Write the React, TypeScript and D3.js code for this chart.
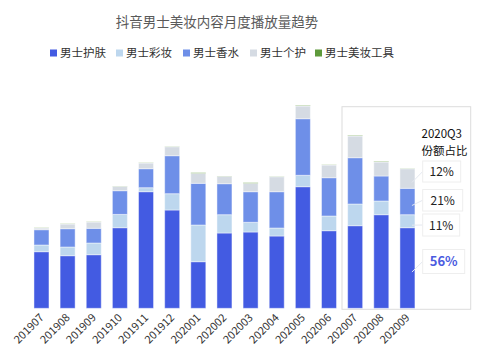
import React from 'react';
import * as d3 from 'd3';

const months = ['201907', '201908', '201909', '201910', '201911', '201912', '202001', '202002', '202003', '202004', '202005', '202006', '202007', '202008', '202009'];
const seriesNames = ['男士护肤', '男士彩妆', '男士香水', '男士个护', '男士美妆工具'];
const colors = ['#435be2', '#bdd7ee', '#6e8fe8', '#d5dbe3', '#5e9a3b'];

// values (arbitrary units)
const skincare = [56.6, 52.6, 53.6, 80.6, 116.6, 98.3, 46.6, 75.3, 76.3, 72.3, 121.6, 77.6, 82.6, 93.6, 80.6];
const makeup = [6.7, 8.7, 11.7, 13.3, 4, 16.3, 36.7, 18.3, 9.7, 8, 11.4, 14.7, 21.7, 13.7, 13];
const fragrance = [15.3, 18.3, 14.7, 23.7, 19, 38, 41.7, 31, 30.6, 36.3, 56.6, 38.3, 46.3, 25, 26.4];
const personalCare = [1.7, 4.7, 6.3, 4.3, 5.7, 9, 10, 7.4, 8.4, 15, 12.7, 12.7, 21.7, 14, 19.6];
const tools = [0.2, 0.2, 0.2, 0.2, 0.2, 0.2, 0.6, 0.2, 0.6, 0.2, 0.5, 0.2, 0.5, 0.5, 0.2];

const shareLabels = ['56%', '11%', '21%', '12%'];

export default function App() {
  const width = 490;
  const height = 361;
  const base = 308.3;

  const rows = months.map((m, i) => ({
    month: m,
    s0: skincare[i], s1: makeup[i], s2: fragrance[i], s3: personalCare[i], s4: tools[i],
  }));
  const keys = ['s0', 's1', 's2', 's3', 's4'];
  const stacked = d3.stack<any>().keys(keys)(rows);

  const x = d3.scaleBand().domain(months).range([28.4, 420.5]).paddingInner(0.426).paddingOuter(0.213);
  const y = d3.scaleLinear().domain([0, 200]).range([base, base - 200]);

  // Q3 bar (last) midpoints for connector lines
  const last = months.length - 1;
  const lastRight = (x(months[last]) ?? 0) + x.bandwidth();
  const boxes = [
    { label: shareLabels[3], seg: 3, top: 161, h: 21, w: 38, bold: false },
    { label: shareLabels[2], seg: 2, top: 189.5, h: 21.5, w: 40, bold: false },
    { label: shareLabels[1], seg: 1, top: 214, h: 22, w: 37, bold: false },
    { label: shareLabels[0], seg: 0, top: 249.5, h: 24, w: 42, bold: true },
  ];
  const boxX = 422.7;

  const legendX = [50, 116, 183, 250, 315];

  return (
    <svg width={width} height={height} style={{ position: 'absolute', left: 0, top: 0, fontFamily: '"Noto Sans CJK SC", "Noto Sans", sans-serif' }}>
      <rect width={width} height={height} fill="#fff" />
      <text x={217} y={27} textAnchor="middle" fontSize={13.5} fill="#595959">抖音男士美妆内容月度播放量趋势</text>

      {seriesNames.map((name, i) => (
        <g key={name}>
          <rect x={legendX[i]} y={49.5} width={7} height={7} fill={colors[i]} />
          <text x={legendX[i] + 10} y={57} fontSize={11.5} fill="#333">{name}</text>
        </g>
      ))}

      <rect x={342} y={106.7} width={128.7} height={202.6} fill="none" stroke="#dcdcdc" strokeWidth={1} />

      {stacked.map((layer, li) => (
        <g key={layer.key}>
          {layer.map((d, i) => (
            <rect
              key={i}
              x={x(months[i])}
              y={y(d[1])}
              width={x.bandwidth()}
              height={Math.max(0, y(d[0]) - y(d[1]))}
              fill={colors[li]}
              stroke="#fff"
              strokeOpacity={0.45}
              strokeWidth={1}
            />
          ))}
        </g>
      ))}

      {months.map((m) => {
        const cx = (x(m) ?? 0) + x.bandwidth() / 2 + 3;
        return (
          <text key={m} x={cx} y={base + 10} transform={`rotate(-45 ${cx},${base + 10})`} textAnchor="end" fontSize={11} fill="#333">{m}</text>
        );
      })}

      <text x={421.5} y={138} fontSize={11.5} fill="#111">2020Q3</text>
      <text x={421.5} y={155} fontSize={11.5} fill="#111">份额占比</text>

      {boxes.map((b) => {
        const seg = stacked[b.seg][last];
        const midY = (y(seg[0]) + y(seg[1])) / 2;
        const cy = b.top + b.h / 2;
        return (
          <g key={b.label}>
            <line x1={lastRight - 3} y1={midY + 4} x2={boxX} y2={cy} stroke="#e4e8f0" strokeWidth={1} />
            <rect x={boxX} y={b.top} width={b.w} height={b.h} fill="#fff" stroke="#eeeeee" strokeWidth={1} />
            <text x={boxX + b.w / 2} y={cy + 4.5} textAnchor="middle" fontSize={b.bold ? 13 : 12}
              fontWeight={b.bold ? 'bold' : 'normal'} fill={b.bold ? '#4a5be0' : '#222'}>{b.label}</text>
          </g>
        );
      })}
    </svg>
  );
}
